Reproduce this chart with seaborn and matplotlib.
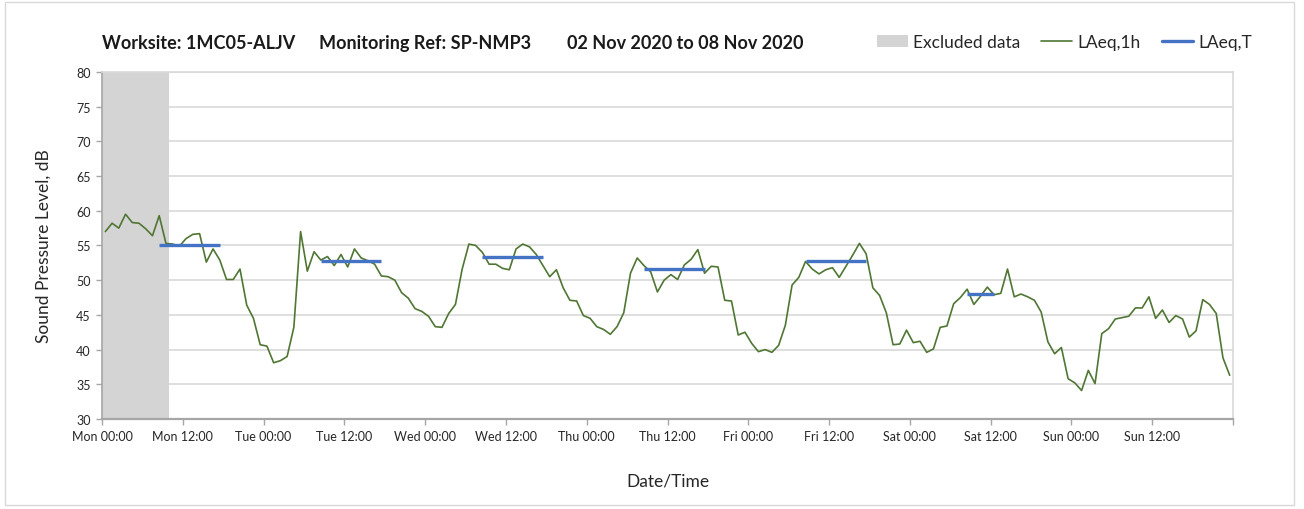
import pandas as pd
import numpy as np
import matplotlib
matplotlib.use("Agg")
import matplotlib.pyplot as plt
import matplotlib.dates as mdates
from matplotlib.ticker import FuncFormatter
from matplotlib.patches import Patch, Rectangle
from matplotlib.lines import Line2D
import seaborn as sns

# --- data ---
START = "2020-11-02 00:30"   # hourly values, plotted mid-hour

laeq_1h = [
    57.0, 58.2, 57.5, 59.5, 58.3, 58.2, 57.4, 56.4, 59.3, 55.3, 55.2, 54.9,
    56.0, 56.6, 56.7, 52.6, 54.5, 52.9, 50.1, 50.1, 51.6, 46.4, 44.5, 40.7,
    40.5, 38.1, 38.4, 39.0, 43.2, 57.0, 51.3, 54.1, 52.9, 53.4, 52.1, 53.7,
    51.9, 54.5, 53.2, 52.8, 52.3, 50.6, 50.5, 50.0, 48.2, 47.4, 45.9, 45.5,
    44.8, 43.3, 43.2, 45.2, 46.5, 51.6, 55.2, 55.0, 54.0, 52.3, 52.3, 51.7,
    51.5, 54.5, 55.2, 54.8, 53.7, 52.1, 50.5, 51.5, 48.9, 47.1, 47.0, 44.9,
    44.5, 43.3, 42.9, 42.2, 43.3, 45.3, 51.0, 53.2, 52.1, 51.2, 48.3, 50.0,
    50.8, 50.1, 52.2, 53.0, 54.4, 51.0, 52.0, 51.9, 47.1, 47.0, 42.1, 42.5,
    40.9, 39.7, 40.0, 39.6, 40.6, 43.5, 49.3, 50.4, 52.7, 51.6, 50.9, 51.5,
    51.8, 50.4, 52.0, 53.6, 55.3, 53.8, 48.9, 47.8, 45.3, 40.7, 40.8, 42.8,
    41.0, 41.2, 39.6, 40.1, 43.2, 43.4, 46.6, 47.5, 48.7, 46.5, 47.7, 49.0,
    47.9, 48.1, 51.6, 47.6, 48.0, 47.6, 47.1, 45.4, 41.1, 39.4, 40.3, 35.8,
    35.2, 34.1, 37.0, 35.1, 42.3, 43.0, 44.4, 44.6, 44.8, 46.0, 46.0, 47.6,
    44.5, 45.7, 43.9, 44.9, 44.4, 41.8, 42.7, 47.2, 46.5, 45.2, 38.8, 36.3,
]

# LAeq,T periods (start, end, level)
period_start = ["2020-11-02 08:30", "2020-11-03 08:30", "2020-11-04 08:30",
                "2020-11-05 08:30", "2020-11-06 08:30", "2020-11-07 08:30"]
period_end = ["2020-11-02 17:30", "2020-11-03 17:30", "2020-11-04 17:30",
              "2020-11-05 17:30", "2020-11-06 17:30", "2020-11-07 12:30"]
laeq_t = [55.1, 52.8, 53.4, 51.6, 52.7, 48.0]

excluded_from = "2020-11-02 00:00"
excluded_to = "2020-11-02 10:00"

title_parts = ["Worksite: 1MC05-ALJV", "Monitoring Ref: SP-NMP3",
               "02 Nov 2020 to 08 Nov 2020"]
legend_labels = ["Excluded data", "LAeq,1h", "LAeq,T"]

GREEN = "#4f7633"
BLUE = "#4472c4"
GREY_EXCL = "#d4d4d4"
GRID = "#d9d9d9"
SPINE = "#a6a6a6"
TXT = "#262626"

df = pd.DataFrame({
    "time": pd.date_range(START, periods=len(laeq_1h), freq="h"),
    "level": laeq_1h,
})

sns.set_theme(style="white")
plt.rcParams["font.family"] = ["Lato", "DejaVu Sans"]

fig = plt.figure(figsize=(13.04, 5.10), dpi=100)
ax = fig.add_axes([0.0782, 0.1765, 0.8674, 0.6805])

ax.axvspan(pd.Timestamp(excluded_from), pd.Timestamp(excluded_to),
           color=GREY_EXCL, lw=0, zorder=1)

sns.lineplot(data=df, x="time", y="level", color=GREEN, lw=1.2, ax=ax, zorder=3)

ax.hlines(laeq_t, pd.to_datetime(period_start), pd.to_datetime(period_end),
          color=BLUE, lw=2.4, zorder=4)

# axes
x0, x1 = pd.Timestamp("2020-11-02"), pd.Timestamp("2020-11-09")
ax.set_xlim(x0, x1)
ax.set_ylim(30, 80)
ax.set_yticks(np.arange(30, 81, 5))
ax.xaxis.set_major_locator(mdates.HourLocator(byhour=[0, 12]))
last_tick = mdates.date2num(x1)
ax.xaxis.set_major_formatter(FuncFormatter(
    lambda v, p: "" if abs(v - last_tick) < 1e-6 else mdates.num2date(v).strftime("%a %H:%M")))
ax.xaxis.set_minor_locator(mdates.DayLocator())
ax.grid(axis="y", color=GRID, lw=1.2, zorder=0)
ax.grid(axis="x", which="minor", color=GRID, lw=1.2, zorder=0)
ax.set_axisbelow(True)

ax.tick_params(axis="both", which="major", direction="out", length=4,
               width=1, color=SPINE, labelsize=9, labelcolor=TXT, pad=4,
               left=True, bottom=True)
ax.tick_params(axis="x", which="minor", length=0)
for s in ax.spines.values():
    s.set_color(GRID)
    s.set_linewidth(1.2)
ax.spines["bottom"].set_color(SPINE)
ax.spines["bottom"].set_linewidth(1.6)
ax.spines["left"].set_color(SPINE)

ax.set_xlabel("Date/Time", fontsize=12.5, color=TXT, labelpad=22)
ax.set_ylabel("Sound Pressure Level, dB", fontsize=12.5, color=TXT, labelpad=18)

# title pieces
for xpos, part in zip([0.0782, 0.2446, 0.4348], title_parts):
    fig.text(xpos, 0.915, part, fontsize=13, fontweight="bold",
             color="#1a1a1a", va="center")

handles = [
    Patch(facecolor=GREY_EXCL, edgecolor="none"),
    Line2D([], [], color=GREEN, lw=1.2),
    Line2D([], [], color=BLUE, lw=2.4),
]
fig.legend(handles, legend_labels, ncol=3,
           loc="center right", bbox_to_anchor=(0.972, 0.915), frameon=False,
           fontsize=12.5, handlelength=1.8, handletextpad=0.3, columnspacing=1.2,
           labelcolor=TXT)

fig.patches.append(Rectangle((0.004, 0.008), 0.988, 0.986, transform=fig.transFigure,
                             fill=False, edgecolor=GRID, lw=1))

fig.savefig("out.png", dpi=100)
